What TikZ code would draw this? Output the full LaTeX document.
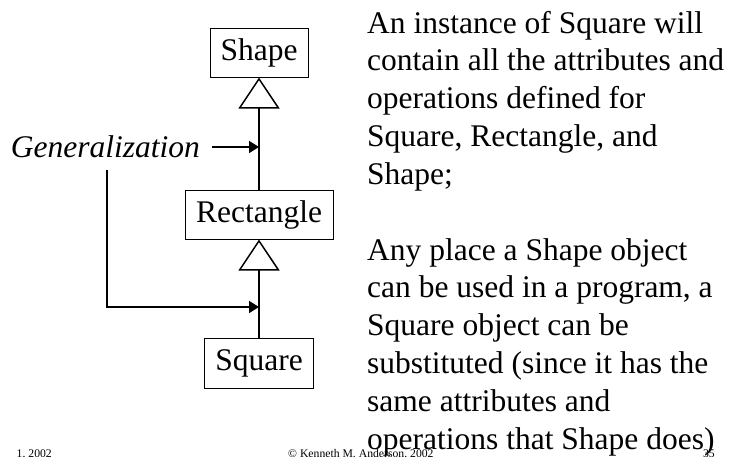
\documentclass[tikz,border=0pt]{standalone}
\usepackage{fontspec}
\setmainfont{Liberation Serif}
\usetikzlibrary{arrows.meta}
\begin{document}
\begin{tikzpicture}[x=1pt,y=-1pt,
  cls/.style={draw,line width=1pt,inner sep=0pt,minimum height=49pt,font=\fontsize{31.5}{37.8}\selectfont},
  inh/.style={line width=1.8pt,-{Triangle[open,length=31pt,width=41pt,line width=1.5pt]}},
  pointer/.style={line width=1.8pt,-{Triangle[length=10pt,width=12pt]}},
  body/.style={anchor=base west,inner sep=0pt,align=flush left,text width=380pt,font=\fontsize{31.5}{37.8}\selectfont},
  foot/.style={inner sep=0pt,font=\fontsize{11.7}{14}\selectfont}]
\useasboundingbox (0,0) rectangle (730,456);
\clip (0,0) rectangle (730,456);
\node[cls,minimum width=98pt] (shape) at (259,52.5) {Shape};
\node[cls,minimum width=148pt] (rect) at (259,214.5) {Rectangle};
\node[cls,minimum width=109pt,minimum height=50pt] (square) at (259,363) {Square};
\draw[inh] (rect.north) -- (shape.south);
\draw[inh] (square.north) -- (rect.south);
\node[anchor=east,inner xsep=12pt,inner ysep=0pt,font=\itshape\fontsize{31.5}{37.8}\selectfont] (gen) at (212,147) {Generalization};
\coordinate (g1) at (259,147);
\coordinate (g2) at (259,307);
\coordinate (gx) at (107,0);
\draw[pointer] (gen.east) -- (g1);
\draw[pointer,shorten <=12pt] (gen.south -| gx) |- (g2);
\node[body] (p1) at (367,33) {An instance of Square will\\contain all the attributes and\\operations defined for\\Square, Rectangle, and\\Shape;};
\node[body] (p2) at (367,260) {Any place a Shape object\\can be used in a program, a\\Square object can be\\substituted (since it has the\\same attributes and\\operations that Shape does)};
\node[foot,anchor=base east] (date) at (52,457) {1, 2002};
\node[foot,anchor=base west] (copy) at (288,457) {© Kenneth M. Anderson, 2002};
\node[foot,anchor=base east] (page) at (715,457) {35};
\end{tikzpicture}
\end{document}
